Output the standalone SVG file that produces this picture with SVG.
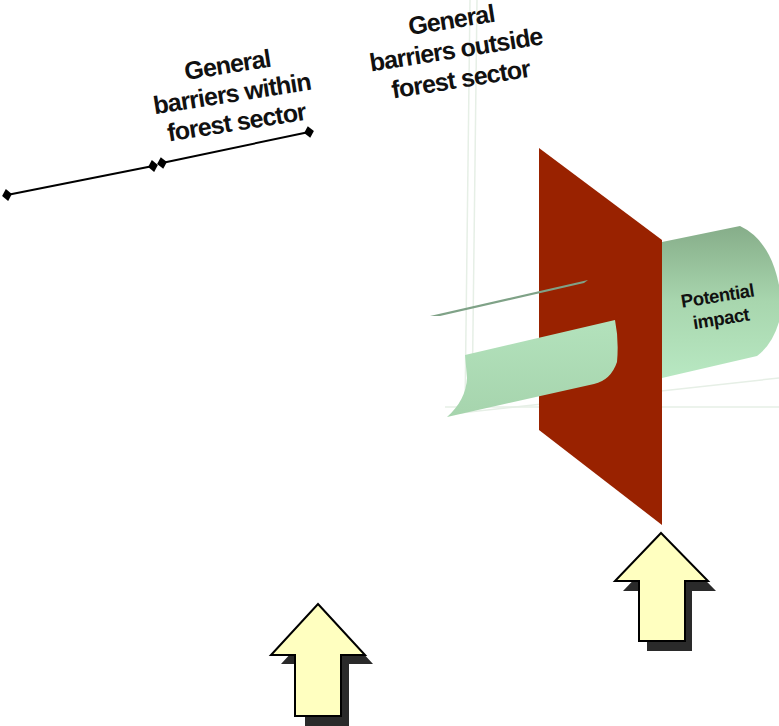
<svg xmlns="http://www.w3.org/2000/svg" width="779" height="726" viewBox="0 0 779 726">
<defs>
<linearGradient id="cylR" x1="0" y1="0" x2="0" y2="1">
<stop offset="0" stop-color="#86ad89"/>
<stop offset="0.5" stop-color="#a8d6ae"/>
<stop offset="1" stop-color="#b8e8c2"/>
</linearGradient>
<linearGradient id="cylL" x1="0" y1="0" x2="0" y2="1">
<stop offset="0" stop-color="#b3e2bc"/>
<stop offset="1" stop-color="#a6d4ad"/>
</linearGradient>
<marker id="dia" viewBox="-6 -7 12 14" markerWidth="12" markerHeight="14" refX="0" refY="0" orient="auto" markerUnits="userSpaceOnUse">
<path d="M-5,0 L0,-6 L5,0 L0,6 Z" fill="#000"/>
</marker>
<style>
.t{font-family:"Liberation Sans",Arial,sans-serif;font-weight:bold;fill:#111;text-anchor:middle}
.big{font-size:25px;letter-spacing:-0.9px}
.small{font-size:18.5px;letter-spacing:-0.5px}
.arrow{fill:#ffffc0;stroke:#000;stroke-width:2;stroke-linejoin:miter}
.shadow{fill:#2a2a2a}
.faint{stroke:#e6efe6;stroke-width:1.5;fill:none}
</style>
</defs>
<rect width="779" height="726" fill="#fff"/>
<g id="guides">
<line class="faint" x1="470" y1="0" x2="465" y2="410"/>
<line class="faint" x1="477" y1="0" x2="472" y2="410"/>
<line class="faint" x1="445" y1="407" x2="779" y2="407"/>
<line class="faint" x1="460" y1="413" x2="779" y2="378"/>
</g>
<g id="barrier-plane">
<polygon points="539,148 662,240 662,525 539,430" fill="#992200"/>
</g>
<g id="left-cylinder">
<path d="M430,316 L588,280 L584,283 L440,316 Z" fill="#7fa287"/>
<path d="M465,355 L615,320 Q619,340 617,362 Q611,380 594,384 L447,417 Q466,400 467,378 Q466,366 465,355 Z" fill="url(#cylL)"/>
</g>
<g id="potential-impact">
<path d="M662,242 L740,226 Q770,240 779,285 L779,322 Q772,345 757,356 L662,378 Z" fill="url(#cylR)"/>
<g transform="rotate(-9 719 306)">
<text class="t small" x="719" y="302">Potential</text>
<text class="t small" x="719" y="325">impact</text>
</g>
</g>
<g id="connectors">
<line x1="7" y1="195" x2="153" y2="166" stroke="#000" stroke-width="2" marker-start="url(#dia)" marker-end="url(#dia)"/>
<line x1="162" y1="163" x2="309" y2="132" stroke="#000" stroke-width="2" marker-start="url(#dia)" marker-end="url(#dia)"/>
</g>
<g id="label-within">
<g transform="rotate(-9 232 94)">
<text class="t big" x="232" y="73">General</text>
<text class="t big" x="232" y="102">barriers within</text>
<text class="t big" x="232" y="131">forest sector</text>
</g>
</g>
<g id="label-outside">
<g transform="rotate(-9 456 50)">
<text class="t big" x="456" y="28">General</text>
<text class="t big" x="456" y="58">barriers outside</text>
<text class="t big" x="456" y="88">forest sector</text>
</g>
</g>
<g id="arrow-left">
<polygon class="shadow" points="327,614 373,664 349,664 349,726 305,726 305,664 281,664"/>
<polygon class="arrow" points="318,604 365,655 341,655 341,716 295,716 295,655 271,655"/>
</g>
<g id="arrow-right">
<polygon class="shadow" points="669,543 716,591 692,591 692,651 647,651 647,591 623,591"/>
<polygon class="arrow" points="661,533 708,581 685,581 685,641 639,641 639,581 615,581"/>
</g>
</svg>
